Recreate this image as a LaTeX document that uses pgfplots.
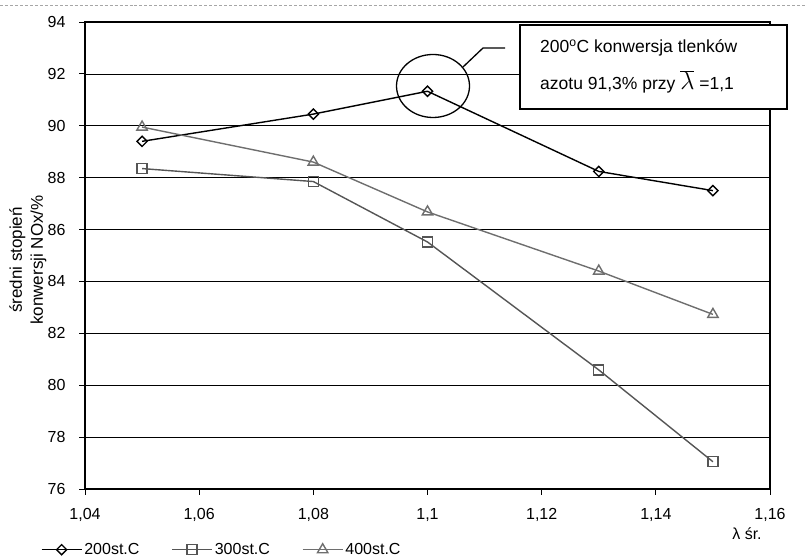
\documentclass[border=0pt]{standalone}
\usepackage{pgfplots}
\pgfplotsset{compat=1.18}
\usepackage{fontspec}
\setmainfont{Liberation Sans}
\definecolor{gthree}{HTML}{555555}
\definecolor{gfour}{HTML}{6E6E6E}
\begin{document}
\fontsize{16bp}{19bp}\selectfont
\begin{tikzpicture}[x=1bp,y=1bp]
\useasboundingbox (0,0) rectangle (807,559);
\draw[gray!70, densely dashed, line width=0.4bp] (0,554) -- (807,554);
\begin{axis}[
  at={(85bp,70bp)}, anchor=south west,
  scale only axis, width=685bp, height=467bp,
  xmin=1.04, xmax=1.16, ymin=76, ymax=94,
  xtick={1.04,1.06,1.08,1.1,1.12,1.14,1.16},
  ytick={76,78,80,82,84,86,88,90,92,94},
  /pgf/number format/.cd, use comma, fixed, precision=2, assume math mode=true,
  /pgfplots/.cd,
  tick align=outside, major tick length=6bp,
  xtick pos=bottom, ytick pos=left,
  ymajorgrids, grid style={black, line width=0.7bp},
  axis line style={black, line width=1.4bp},
  tick style={black, line width=0.8bp},
  ticklabel style={font=\fontsize{16bp}{19bp}\selectfont},
  xticklabel style={yshift=-8bp},
  yticklabel style={xshift=-8bp},
  legend columns=3,
  legend cell align=left,
  legend style={draw=none, fill=none, at={(-0.069,-0.13)}, anchor=west,
    font=\fontsize{16bp}{19bp}\selectfont,
    /tikz/every even column/.append style={column sep=30bp}},
  legend image code/.code={\draw[mark repeat=2,mark phase=2,#1] plot coordinates {(0bp,0bp) (20bp,0bp) (40bp,0bp)};},
]
\addplot[black, line width=1.4bp, mark=square, mark size=3.6bp,
  mark options={rotate=45, fill=white, solid, line width=1.4bp}]
  coordinates {(1.05,89.4) (1.08,90.45) (1.1,91.33) (1.13,88.24) (1.15,87.5)};
\addlegendentry{200st.C}
\addplot[gthree, line width=1.4bp, mark=square, mark size=5bp,
  mark options={fill=white, solid, line width=1.4bp}]
  coordinates {(1.05,88.35) (1.08,87.85) (1.1,85.52) (1.13,80.59) (1.15,77.05)};
\addlegendentry{300st.C}
\addplot[gfour, line width=1.4bp, mark=triangle, mark size=6bp,
  mark options={fill=white, solid, line width=1.4bp}]
  coordinates {(1.05,89.95) (1.08,88.6) (1.1,86.68) (1.13,84.4) (1.15,82.73)};
\addlegendentry{400st.C}
\end{axis}
% y label
\node[rotate=90, align=center, font=\fontsize{17bp}{21bp}\selectfont] at (28,299) {średni stopień\\konwersji NOx/\%};
% x label
\node[font=\fontsize{16bp}{19bp}\selectfont] at (747,25) {λ śr.};
% annotation
\draw[black, line width=1.3bp] (433,473) ellipse [x radius=36.5, y radius=31.5];
\draw[black, line width=1.3bp] (463,492) -- (483,511) -- (505,511);
\draw[black, line width=1.4bp, fill=white] (520,450) rectangle (787,534);
\node[anchor=west, inner sep=0pt, font=\fontsize{17.5bp}{21bp}\selectfont] at (540,511) {200\textsuperscript{o}C konwersja tlenków};
\node[anchor=west, inner sep=0pt, font=\fontsize{17.5bp}{21bp}\selectfont] at (540,477) {azotu 91,3\% przy {\fontsize{32bp}{32bp}\selectfont$\overline{\lambda}$} =1,1};
\end{tikzpicture}
\end{document}
